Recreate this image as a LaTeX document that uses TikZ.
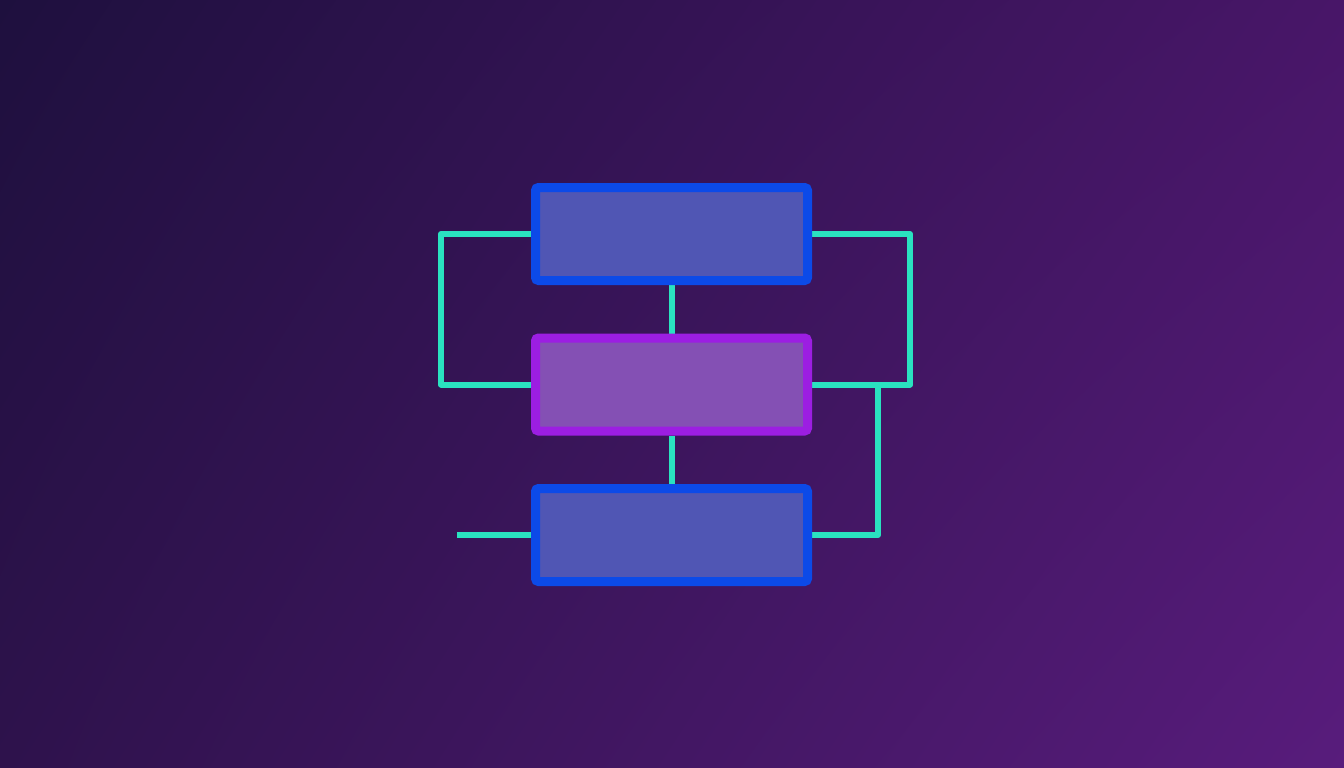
\documentclass[tikz,border=0pt]{standalone}
\usetikzlibrary{positioning,shadings}
\definecolor{bgtl}{RGB}{30,16,62}
\definecolor{bgtr}{RGB}{72,22,104}
\definecolor{bgbl}{RGB}{46,18,76}
\definecolor{bgbr}{RGB}{88,28,124}
\definecolor{blueedge}{RGB}{12,74,232}
\definecolor{bluefill}{RGB}{80,86,180}
\definecolor{violetedge}{RGB}{156,30,226}
\definecolor{violetfill}{RGB}{132,80,180}
\definecolor{teal}{RGB}{42,226,192}
\pgfdeclarelayer{back}
\pgfdeclarelayer{wires}
\pgfsetlayers{back,wires,main}
\tikzset{
  blockbox/.style={rectangle, rounded corners=3pt, line width=9pt, minimum width=272pt, minimum height=93pt, inner sep=0pt},
  bluebox/.style={blockbox, draw=blueedge, fill=bluefill},
  violetbox/.style={blockbox, draw=violetedge, fill=violetfill},
  wire/.style={draw=teal, line width=6pt, line join=round}
}
\begin{document}
\begin{tikzpicture}[x=1pt,y=-1pt]
\begin{pgfonlayer}{back}
\shade[upper left=bgtl, upper right=bgtr, lower left=bgbl, lower right=bgbr] (0,0) rectangle (1344,768);
\end{pgfonlayer}
\useasboundingbox (0,0) rectangle (1344,768);
\node[bluebox] (top) at (671.5,234) {};
\node[violetbox] (mid) at (671.5,384.5) {};
\node[bluebox] (bot) at (671.5,535) {};
\coordinate (stub) at (457,535);
\begin{pgfonlayer}{wires}
\draw[wire] (top) -- (mid);
\draw[wire] (mid) -- (bot);
\draw[wire] (top.west) -- ++(-90,0) |- (mid.west);
\draw[wire] (top.east) -- ++(98,0) |- (mid.east);
\draw[wire] (mid.east) ++(66,0) coordinate (tap) |- (bot.east);
\draw[wire] (stub) -- (bot.west);
\end{pgfonlayer}
\end{tikzpicture}
\end{document}
